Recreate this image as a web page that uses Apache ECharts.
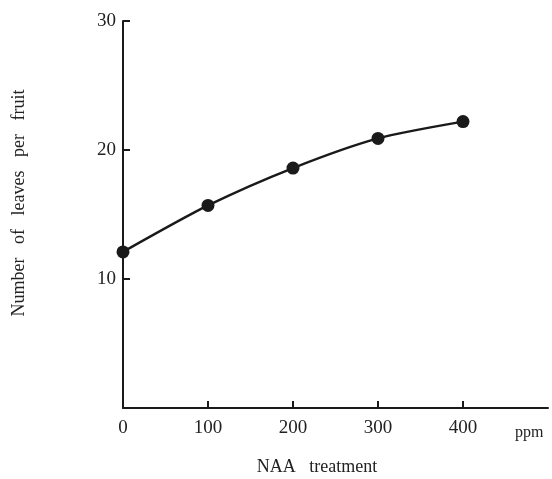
<!DOCTYPE html>
<html>
<head>
<meta charset="utf-8">
<script src="https://cdn.jsdelivr.net/npm/echarts@6/dist/echarts.min.js"></script>
<style>
  html, body { margin: 0; padding: 0; background: #fff; }
  #chart { width: 552px; height: 479px; }
</style>
</head>
<body>
<div id="chart"></div>
<script>
var doses = [0, 100, 200, 300, 400];
var leaves = [12.1, 15.7, 18.6, 20.9, 22.2];
var xLabelValues = [0, 100, 200, 300, 400];
var xTickValues = [100, 200, 300, 400];
var yTickValues = [10, 20, 30];

;(function() {
  var ink = '#1a1a1a';
  var textColor = '#222';
  var font = '"Liberation Serif", "DejaVu Serif", serif';

  var points = doses.map(function(d, i) { return [d, leaves[i]]; });

  var chart = echarts.init(document.getElementById('chart'));
  chart.setOption({
    backgroundColor: '#fff',
    animation: false,
    grid: { left: 123, right: 4, top: 21, bottom: 71 },
    xAxis: {
      type: 'value',
      min: 0, max: 500, interval: 100,
      axisLine: { lineStyle: { color: ink, width: 2 } },
      axisTick: { inside: true, length: 7, lineStyle: { color: ink, width: 2 }, customValues: xTickValues },
      axisLabel: { color: textColor, fontFamily: font, fontSize: 19, margin: 11, customValues: xLabelValues },
      splitLine: { show: false }
    },
    yAxis: {
      type: 'value',
      min: 0, max: 30, interval: 10,
      axisLine: { show: true, lineStyle: { color: ink, width: 2 } },
      axisTick: { show: true, inside: true, length: 7, lineStyle: { color: ink, width: 2 }, customValues: yTickValues },
      axisLabel: { color: textColor, fontFamily: font, fontSize: 19, margin: 7, customValues: yTickValues },
      splitLine: { show: false }
    },
    graphic: [
      {
        type: 'text', x: 19, y: 203, rotation: Math.PI / 2,
        style: { text: 'Number   of   leaves   per   fruit', font: '18px ' + font, fill: textColor, align: 'center', verticalAlign: 'middle' }
      },
      {
        type: 'text', x: 317, y: 467,
        style: { text: 'NAA   treatment', font: '18px ' + font, fill: textColor, align: 'center', verticalAlign: 'middle' }
      },
      {
        type: 'text', x: 515, y: 433,
        style: { text: 'ppm', font: '16px ' + font, fill: textColor, align: 'left', verticalAlign: 'middle' }
      }
    ],
    series: [{
      type: 'line',
      data: points,
      smooth: 0.25,
      symbol: 'circle',
      symbolSize: 13,
      itemStyle: { color: ink },
      lineStyle: { color: ink, width: 2.5 }
    }]
  });
})();
</script>
</body>
</html>
